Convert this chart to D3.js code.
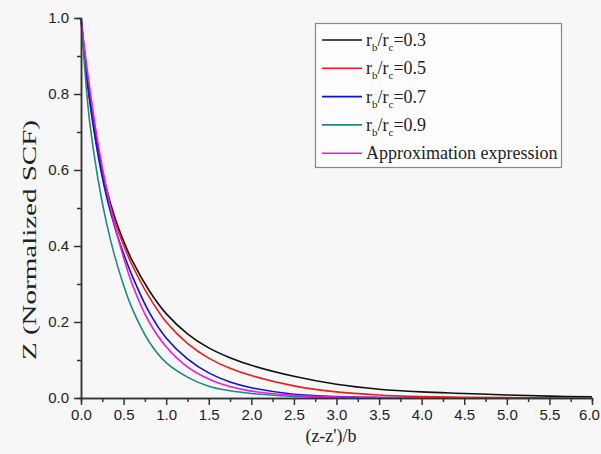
<!DOCTYPE html>
<html>
<head>
<meta charset="utf-8">
<script src="https://cdn.jsdelivr.net/npm/d3@7"></script>
<style>
  body { margin: 0; background: #f7f7f7; }
  svg { display: block; }
</style>
</head>
<body>
<div id="my_dataviz"></div>
<script>
// x positions, (z-z')/b
var xValues = [0, 0.05, 0.1, 0.2, 0.3, 0.4, 0.5, 0.6, 0.8, 1.0, 1.25, 1.5, 1.75, 2.0, 2.5, 3.0, 3.5, 4.0, 4.5, 5.0, 5.5, 6.0];

// one array per curve
var ratio03 = [1, 0.89, 0.795, 0.655, 0.55, 0.473, 0.413, 0.362, 0.283, 0.222, 0.169, 0.132, 0.106, 0.086, 0.057, 0.036, 0.023, 0.016, 0.012, 0.008, 0.005, 0.003];
var ratio05 = [1, 0.885, 0.79, 0.645, 0.54, 0.463, 0.402, 0.35, 0.266, 0.2, 0.144, 0.105, 0.078, 0.059, 0.032, 0.016, 0.008, 0.004, 0.002, 0.001, 0.0005, 0];
var ratio07 = [1, 0.88, 0.785, 0.64, 0.53, 0.447, 0.38, 0.322, 0.226, 0.158, 0.103, 0.066, 0.042, 0.027, 0.01, 0.004, 0.0015, 0.0005, 0, 0, 0, 0];
var ratio09 = [1, 0.85, 0.73, 0.575, 0.46, 0.37, 0.297, 0.236, 0.148, 0.093, 0.055, 0.031, 0.019, 0.012, 0.004, 0.0012, 0.0003, 0, 0, 0, 0, 0];
var approx = [1, 0.905, 0.82, 0.67, 0.55, 0.45, 0.37, 0.30, 0.20, 0.135, 0.082, 0.05, 0.03, 0.018, 0.007, 0.0025, 0.001, 0.0003, 0, 0, 0, 0];

var seriesNames = ["0.3", "0.5", "0.7", "0.9", "Approximation expression"];
var seriesValues = [ratio03, ratio05, ratio07, ratio09, approx];
var colors = ["#111111", "#ee1c1c", "#1010d0", "#1f8a80", "#e020e0"];

var xTicks = d3.range(0, 6.01, 0.5);
var xMinor = d3.range(0.25, 6, 0.5);
var yTicks = [0, 0.2, 0.4, 0.6, 0.8, 1.0];
var yMinor = [0.1, 0.3, 0.5, 0.7, 0.9];

var width = 601,
    height = 454,
    margin = {top: 18, right: 9, bottom: 56, left: 81};

var svg = d3.select("#my_dataviz")
  .append("svg")
    .attr("width", width)
    .attr("height", height);

svg.append("rect")
  .attr("width", width)
  .attr("height", height)
  .attr("fill", "#f7f7f7");

var x = d3.scaleLinear()
  .domain([0, 6])
  .range([margin.left, width - margin.right]);

var y = d3.scaleLinear()
  .domain([0, 1])
  .range([height - margin.bottom, margin.top]);

// curves
var line = d3.line()
  .x(function(d) { return x(d[0]); })
  .y(function(d) { return y(d[1]); })
  .curve(d3.curveCatmullRom.alpha(0.5));

seriesValues.forEach(function(vals, i) {
  svg.append("path")
    .datum(xValues.map(function(v, j) { return [v, vals[j]]; }))
    .attr("fill", "none")
    .attr("stroke", colors[i])
    .attr("stroke-width", 1.6)
    .attr("d", line);
});

// axes, minor ticks first
function styleAxis(g) {
  g.selectAll(".domain").attr("stroke", "#333").attr("stroke-width", 1.5);
  g.selectAll(".tick line").attr("stroke", "#333").attr("stroke-width", 1.5);
  g.selectAll("text")
    .attr("fill", "#222")
    .style("font-family", "'Liberation Sans', Arial, sans-serif")
    .style("font-size", "15px");
}

svg.append("g")
  .attr("transform", "translate(0," + y(0) + ")")
  .call(d3.axisBottom(x).tickValues(xMinor).tickSize(4).tickFormat(""))
  .call(styleAxis);

var xAxisG = svg.append("g")
  .attr("transform", "translate(0," + y(0) + ")")
  .call(d3.axisBottom(x).tickValues(xTicks).tickSize(7).tickSizeOuter(0).tickPadding(4).tickFormat(d3.format(".1f")))
  .call(styleAxis);

// keep the last label inside the window
xAxisG.selectAll(".tick text")
  .filter(function(d) { return d === 6; })
  .attr("dx", -3);

svg.append("g")
  .attr("transform", "translate(" + x(0) + ",0)")
  .call(d3.axisLeft(y).tickValues(yMinor).tickSize(4).tickFormat(""))
  .call(styleAxis);

svg.append("g")
  .attr("transform", "translate(" + x(0) + ",0)")
  .call(d3.axisLeft(y).tickValues(yTicks).tickSize(7).tickSizeOuter(0).tickPadding(5).tickFormat(d3.format(".1f")))
  .call(styleAxis);

// axis titles
svg.append("text")
  .attr("x", 331)
  .attr("y", 442)
  .attr("text-anchor", "middle")
  .style("font-family", "'Liberation Serif', 'Times New Roman', serif")
  .style("font-size", "18px")
  .attr("fill", "#222")
  .text("(z-z')/b");

svg.append("text")
  .attr("transform", "translate(36,240) rotate(-90)")
  .attr("text-anchor", "middle")
  .attr("textLength", 240)
  .attr("lengthAdjust", "spacingAndGlyphs")
  .style("font-family", "'Liberation Serif', 'Times New Roman', serif")
  .style("font-size", "19px")
  .attr("fill", "#222")
  .text("Z (Normalized SCF)");

// legend
var legend = svg.append("g");

legend.append("rect")
  .attr("x", 315.5)
  .attr("y", 23.5)
  .attr("width", 246)
  .attr("height", 144)
  .attr("fill", "#fdfdfd")
  .attr("stroke", "#888")
  .attr("stroke-width", 1.2);

seriesNames.forEach(function(name, i) {
  var ly = 40 + i * 28.3;
  legend.append("line")
    .attr("x1", 322).attr("x2", 362)
    .attr("y1", ly).attr("y2", ly)
    .attr("stroke", colors[i])
    .attr("stroke-width", 1.6);

  var t = legend.append("text")
    .attr("x", 366)
    .attr("y", ly + 6)
    .attr("fill", "#222")
    .style("font-family", "'Liberation Serif', 'Times New Roman', serif")
    .style("font-size", "18px");

  if (i < 4) {
    t.append("tspan").text("r");
    t.append("tspan").attr("dy", 5).style("font-size", "11px").text("b");
    t.append("tspan").attr("dy", -5).text("/r");
    t.append("tspan").attr("dy", 5).style("font-size", "11px").text("c");
    t.append("tspan").attr("dy", -5).text("=" + name);
  } else {
    t.text(name);
  }
});
</script>
</body>
</html>
